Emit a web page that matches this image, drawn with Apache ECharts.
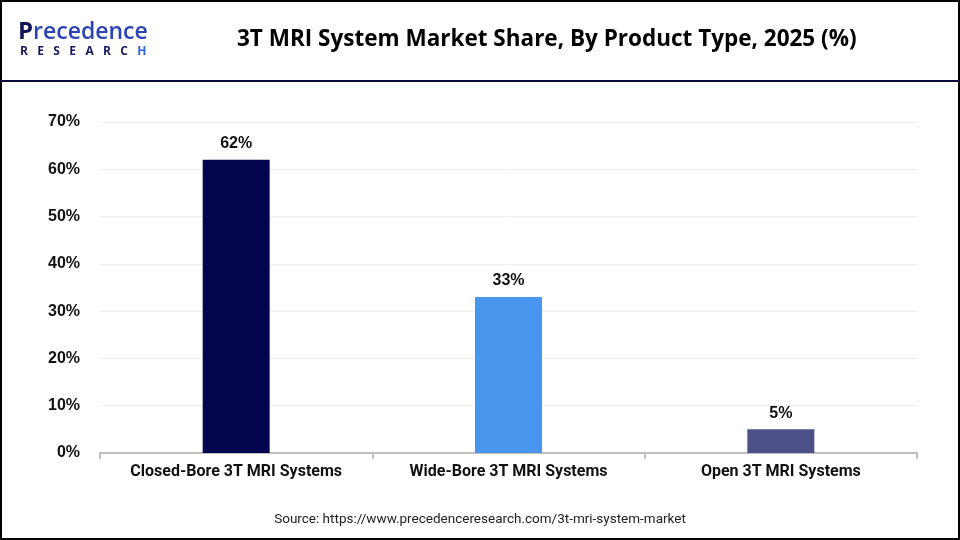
<!DOCTYPE html>
<html>
<head>
<meta charset="utf-8">
<script src="https://cdn.jsdelivr.net/npm/echarts@6/dist/echarts.min.js"></script>
<style>
  html, body { margin: 0; padding: 0; background: #fff; }
  #chart { width: 960px; height: 540px; }
</style>
</head>
<body>
<div id="chart"></div>
<script>
// data
const categories = ['Closed-Bore 3T MRI Systems', 'Wide-Bore 3T MRI Systems', 'Open 3T MRI Systems']
const shares = [62, 33, 5]
const barColors = ['#03054f', '#4795ec', '#4c5088']
const yTicks = [0, 10, 20, 30, 40, 50, 60, 70]

const titleText = '3T MRI System Market Share, By Product Type, 2025 (%)'
const sourceText = 'Source: https://www.precedenceresearch.com/3t-mri-system-market'

const myChart = echarts.init(document.getElementById('chart'))

const option = {
  animation: false,
  backgroundColor: '#fff',
  grid: { left: 100, right: 43, top: 122, bottom: 87 },
  xAxis: {
    type: 'category',
    data: categories,
    axisLine: { lineStyle: { color: '#bfbfbf', width: 2 } },
    axisTick: { show: true, length: 6, lineStyle: { color: '#bfbfbf', width: 2 } },
    axisLabel: {
      interval: 0,
      hideOverlap: false,
      color: '#111',
      fontFamily: 'Roboto',
      fontWeight: 'bold',
      fontSize: 16,
      margin: 11
    }
  },
  yAxis: {
    type: 'value',
    min: yTicks[0],
    max: yTicks[yTicks.length - 1],
    interval: 10,
    axisLine: { show: false },
    axisTick: { show: false },
    splitLine: { lineStyle: { color: '#ececec', width: 1 } },
    axisLabel: {
      formatter: '{value}%',
      color: '#111',
      fontFamily: 'Arial',
      fontWeight: 'bold',
      fontSize: 16,
      margin: 20
    }
  },
  series: [{
    type: 'bar',
    barWidth: 67,
    data: shares.map((v, i) => ({ value: v, itemStyle: { color: barColors[i] } })),
    label: {
      show: true,
      position: 'top',
      distance: 8,
      formatter: '{c}%',
      color: '#111',
      fontFamily: 'Arial',
      fontWeight: 'bold',
      fontSize: 16
    }
  }],
  graphic: [
    // outer border
    { type: 'rect', shape: { x: 1, y: 1, width: 958, height: 538 }, style: { fill: 'none', stroke: '#000', lineWidth: 2 }, silent: true },
    // header rule
    { type: 'line', shape: { x1: 0, y1: 81, x2: 960, y2: 81 }, style: { stroke: '#0a0a3c', lineWidth: 2 }, silent: true },
    // logo
    {
      type: 'text', left: 18, top: 20,
      style: {
        text: '{p|P}{r|recedence}',
        rich: {
          p: { fill: '#101556', font: 'bold 24px "Open Sans"' },
          r: { fill: '#2a44b8', font: '600 23px "Open Sans"' }
        }
      }
    },
    {
      type: 'text', left: 20, top: 46,
      style: {
        text: '{a|R   E   S   E   A   R   C}{b|   H}',
        rich: {
          a: { fill: '#141a5e', font: 'bold 12px "Open Sans"' },
          b: { fill: '#2f62d8', font: 'bold 12px "Open Sans"' }
        }
      }
    },
    // title
    { type: 'text', left: 237, top: 28, style: { text: titleText, fill: '#000', font: 'bold 22.5px "Open Sans"' } },
    // source
    { type: 'text', left: 'center', top: 513, style: { text: sourceText, fill: '#222', font: '13.5px Roboto' } }
  ]
}

myChart.setOption(option)
window.addEventListener('resize', () => myChart.resize())
</script>
</body>
</html>
